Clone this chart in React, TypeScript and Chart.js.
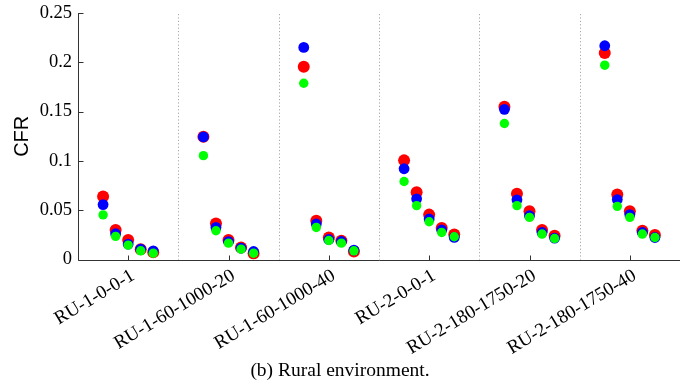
import React, { useEffect, useRef } from "react";
import { Chart, registerables } from "chart.js";

Chart.register(...registerables);

const categories = [
  "RU-1-0-0-1",
  "RU-1-60-1000-20",
  "RU-1-60-1000-40",
  "RU-2-0-0-1",
  "RU-2-180-1750-20",
  "RU-2-180-1750-40",
];

// five variants per category, left to right
const variantsPerCategory = 5;

const redValues = [
  0.064, 0.030, 0.0198, 0.0106, 0.0075,
  0.1245, 0.0367, 0.0198, 0.0122, 0.0061,
  0.1954, 0.0394, 0.0224, 0.019, 0.0082,
  0.1006, 0.0683, 0.0456, 0.032, 0.0255,
  0.155, 0.0667, 0.0489, 0.030, 0.0242,
  0.2094, 0.066, 0.0489, 0.0293, 0.0249,
];

const blueValues = [
  0.0558, 0.0262, 0.0157, 0.0106, 0.0089,
  0.1244, 0.0326, 0.0183, 0.0116, 0.0082,
  0.2151, 0.0361, 0.0204, 0.0184, 0.0096,
  0.0921, 0.0616, 0.0412, 0.030, 0.0225,
  0.1523, 0.0606, 0.0445, 0.0275, 0.0218,
  0.2168, 0.0609, 0.0456, 0.0275, 0.0224,
];

const greenValues = [
  0.0453, 0.0235, 0.0147, 0.0089, 0.0065,
  0.1054, 0.0293, 0.0167, 0.0106, 0.0065,
  0.1788, 0.0326, 0.0194, 0.0167, 0.0089,
  0.0792, 0.0547, 0.0384, 0.0275, 0.0232,
  0.138, 0.0547, 0.0428, 0.0259, 0.0214,
  0.1971, 0.054, 0.0428, 0.0259, 0.0224,
];

const yTicks = [0, 0.05, 0.1, 0.15, 0.2, 0.25];

function toPoints(values: number[]) {
  return values.map((v, i) => {
    const cat = Math.floor(i / variantsPerCategory);
    const k = i % variantsPerCategory;
    return { x: cat + 0.5 + (k - 2) * 0.125, y: v };
  });
}

const decorPlugin = {
  id: "decor",
  beforeDatasetsDraw(chart: any) {
    const { ctx, chartArea: a, scales } = chart;
    const x = scales.x;
    const y = scales.y;
    ctx.save();
    // dotted separators
    ctx.strokeStyle = "#a8a8a8";
    ctx.lineWidth = 1;
    ctx.setLineDash([1.2, 2.2]);
    for (let i = 1; i < categories.length; i++) {
      const px = Math.round(x.getPixelForValue(i)) + 0.5;
      ctx.beginPath();
      ctx.moveTo(px, a.top + 1);
      ctx.lineTo(px, a.bottom);
      ctx.stroke();
    }
    ctx.setLineDash([]);
    ctx.strokeStyle = "#333333";
    ctx.lineWidth = 1;
    // axis lines
    const lx = Math.round(a.left) + 0.5;
    const by = Math.round(a.bottom) + 0.5;
    ctx.beginPath();
    ctx.moveTo(lx, a.top);
    ctx.lineTo(lx, by);
    ctx.lineTo(a.right, by);
    ctx.stroke();
    // inward ticks
    yTicks.forEach((t) => {
      const py = Math.round(y.getPixelForValue(t)) + 0.5;
      ctx.beginPath();
      ctx.moveTo(lx, py);
      ctx.lineTo(lx + 5, py);
      ctx.stroke();
    });
    categories.forEach((_, i) => {
      const px = Math.round(x.getPixelForValue(i + 0.5)) + 0.5;
      ctx.beginPath();
      ctx.moveTo(px, by);
      ctx.lineTo(px, by - 5);
      ctx.stroke();
    });
    ctx.restore();
  },
};

export default function App() {
  const ref = useRef<HTMLCanvasElement | null>(null);

  useEffect(() => {
    document.body.style.margin = "0";
    const canvas = ref.current;
    if (!canvas) return;
    const serif = "'Liberation Serif', 'Times New Roman', serif";
    const chart = new Chart(canvas, {
      type: "scatter",
      data: {
        datasets: [
          {
            label: "red",
            data: toPoints(redValues),
            backgroundColor: "#ff0000",
            pointRadius: 6,
            pointBorderWidth: 0,
            borderWidth: 0,
            order: 3,
          },
          {
            label: "blue",
            data: toPoints(blueValues),
            backgroundColor: "#0000ff",
            pointRadius: 5.4,
            pointBorderWidth: 0,
            borderWidth: 0,
            order: 2,
          },
          {
            label: "green",
            data: toPoints(greenValues),
            backgroundColor: "#00ff00",
            pointRadius: 4.7,
            pointBorderWidth: 0,
            borderWidth: 0,
            order: 1,
          },
        ],
      },
      options: {
        responsive: false,
        animation: false,
        layout: { padding: { top: 13, right: 14, left: 0, bottom: 0 } },
        plugins: {
          legend: { display: false },
          tooltip: { enabled: false },
          title: {
            display: true,
            position: "bottom",
            text: "(b) Rural environment.",
            color: "#000",
            font: { family: serif, size: 19.5, weight: "normal" },
            padding: { top: 0, bottom: 8 },
          },
        },
        scales: {
          x: {
            type: "linear",
            min: 0,
            max: categories.length,
            afterBuildTicks: (scale: any) => {
              scale.ticks = categories.map((_, i) => ({ value: i + 0.5 }));
            },
            afterFit: (scale: any) => {
              scale.height = 100;
              scale.paddingLeft = 0;
              scale.paddingRight = 0;
            },
            grid: { display: false, drawTicks: false },
            border: { display: false },
            ticks: {
              autoSkip: false,
              minRotation: 31,
              maxRotation: 31,
              padding: 5,
              labelOffset: 5,
              color: "#000",
              font: { family: serif, size: 19 },
              callback: (_v: any, i: number) => categories[i],
            },
          },
          y: {
            min: 0,
            max: 0.25,
            afterBuildTicks: (scale: any) => {
              scale.ticks = yTicks.map((v) => ({ value: v }));
            },
            afterFit: (scale: any) => {
              scale.width = 78;
              scale.paddingTop = 0;
              scale.paddingBottom = 0;
            },
            grid: { display: false, drawTicks: false },
            border: { display: false },
            ticks: {
              padding: 6,
              color: "#000",
              font: { family: serif, size: 18.5 },
              callback: (v: any) => String(Number(v)),
            },
            title: {
              display: true,
              text: "CFR",
              color: "#000",
              font: { family: "'Liberation Sans', Arial, sans-serif", size: 20 },
              padding: { top: 10, bottom: 0 },
            },
          },
        },
      },
      plugins: [decorPlugin],
    } as any);
    return () => chart.destroy();
  }, []);

  return (
    <div style={{ width: 694, height: 391, background: "#fff" }}>
      <canvas ref={ref} width={694} height={391} />
    </div>
  );
}
